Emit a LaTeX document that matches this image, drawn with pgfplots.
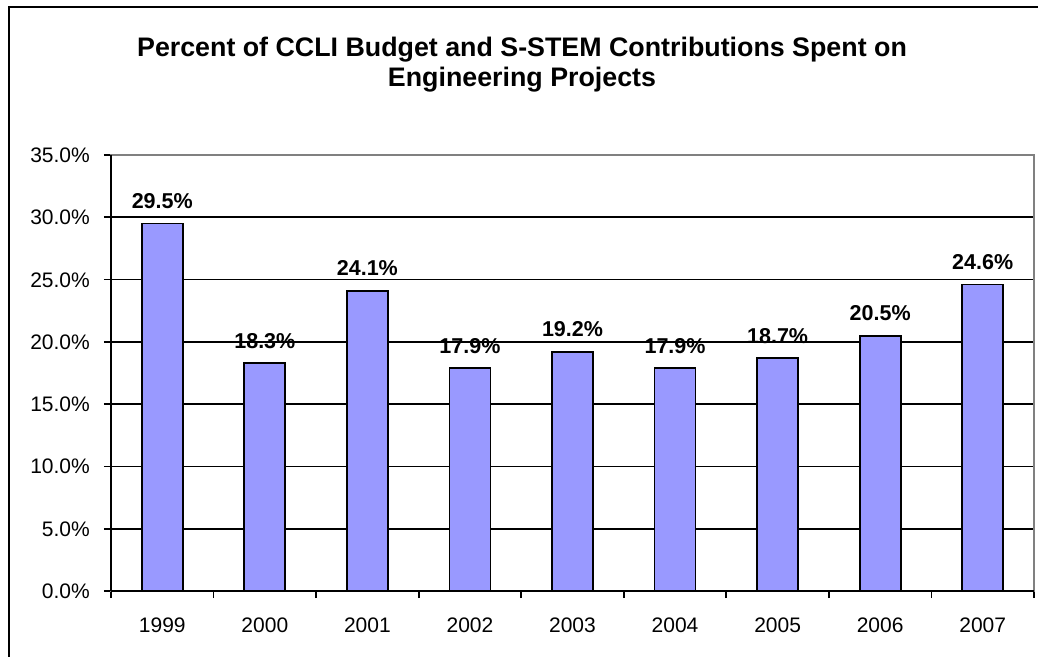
\documentclass[border=0pt]{standalone}
\usepackage{pgfplots}
\pgfplotsset{compat=1.18}
\usepackage{pgfplotstable}
\usepackage{fontspec}
\setmainfont{Liberation Sans}
\definecolor{barfill}{HTML}{9999FF}
\definecolor{bordergray}{HTML}{808080}
\pgfplotstableread{
x val lab
0 29.5 29.5\%
1 18.3 18.3\%
2 24.1 24.1\%
3 17.9 17.9\%
4 19.2 19.2\%
5 17.9 17.9\%
6 18.7 18.7\%
7 20.5 20.5\%
8 24.6 24.6\%
}\datatable
\begin{document}
\begin{tikzpicture}
\begin{axis}[
  scale only axis, width=923pt, height=436pt,
  xmin=-0.5, xmax=8.5, ymin=0, ymax=35,
  axis line style={bordergray, line width=1.8pt},
  xtick={-0.5,0.5,...,8.5},
  xticklabels={1999,2000,2001,2002,2003,2004,2005,2006,2007},
  x tick label as interval,
  ytick={0,5,...,35},
  yticklabels={0.0\%,5.0\%,10.0\%,15.0\%,20.0\%,25.0\%,30.0\%,35.0\%},
  tick pos=left, tick align=outside,
  major tick length=7pt,
  tick style={black, line width=1.8pt},
  ymajorgrids, grid style={black, line width=1.8pt},
  ticklabel style={font=\fontsize{21}{24}\selectfont},
  yticklabel style={anchor=base east, inner sep=0pt, xshift=-14pt, yshift=-7.5pt},
  xticklabel style={anchor=base, inner sep=0pt, yshift=-34pt},
  clip=false,
]
\addplot[ybar, bar width=41pt, fill=barfill, draw=black, line width=1.8pt,
  nodes near coords, point meta=explicit symbolic,
  every node near coord/.append style={font=\fontsize{21.5}{24}\selectfont\bfseries, anchor=base, inner sep=0pt, yshift=15pt}]
  table[x=x, y=val, meta=lab] {\datatable};
\draw[black, line width=1.8pt] (rel axis cs:0,0) -- (rel axis cs:0,1);
\draw[black, line width=1.8pt] (rel axis cs:0,0) -- (rel axis cs:1,0);
\coordinate (O) at (rel axis cs:0,0);
\end{axis}
\pgfresetboundingbox
\begin{scope}[shift={(O)}, x=1pt, y=1pt]
\useasboundingbox (-111,591) rectangle (927,-65);
\node[font=\fontsize{26.8}{30}\selectfont\bfseries, align=center, anchor=base] at (411,504)
  {Percent of CCLI Budget and S-STEM Contributions Spent on\\Engineering Projects};
\draw[line width=2pt] (-102,584) rectangle (960,-100);
\end{scope}
\end{tikzpicture}
\end{document}
